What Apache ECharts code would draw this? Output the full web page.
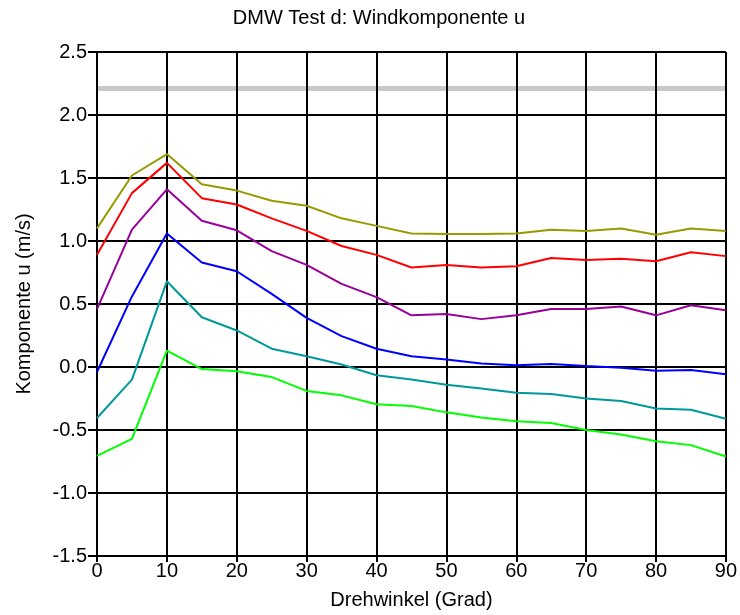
<!DOCTYPE html>
<html>
<head>
<meta charset="utf-8">
<title>DMW Test d: Windkomponente u</title>
<script src="https://cdn.jsdelivr.net/npm/echarts@6/dist/echarts.min.js"></script>
<style>
  html, body { margin: 0; padding: 0; background: #fff; }
  #chart { width: 740px; height: 615px; }
</style>
</head>
<body>
<div id="chart"></div>
<script>
// Rotation angle (degrees) of each sample
const angles = [0, 5, 10, 15, 20, 25, 30, 35, 40, 45, 50, 55, 60, 65, 70, 75, 80, 85, 90];

// u wind component (m/s) for each curve
const seriesOlive  = [1.10, 1.52, 1.69, 1.45, 1.40, 1.32, 1.28, 1.18, 1.12, 1.06, 1.055, 1.055, 1.06, 1.09, 1.08, 1.10, 1.05, 1.10, 1.08];
const seriesRed    = [0.89, 1.38, 1.62, 1.34, 1.29, 1.18, 1.08, 0.96, 0.89, 0.79, 0.81, 0.79, 0.80, 0.865, 0.85, 0.86, 0.84, 0.91, 0.88];
const seriesPurple = [0.46, 1.09, 1.41, 1.16, 1.085, 0.92, 0.81, 0.66, 0.555, 0.41, 0.42, 0.38, 0.41, 0.46, 0.46, 0.48, 0.41, 0.49, 0.45];
const seriesBlue   = [-0.04, 0.56, 1.06, 0.83, 0.76, 0.58, 0.39, 0.245, 0.145, 0.085, 0.06, 0.027, 0.013, 0.024, 0.008, -0.005, -0.03, -0.024, -0.058];
const seriesTeal   = [-0.405, -0.10, 0.68, 0.395, 0.29, 0.145, 0.085, 0.02, -0.066, -0.10, -0.14, -0.17, -0.205, -0.215, -0.25, -0.27, -0.33, -0.34, -0.41];
const seriesGreen  = [-0.705, -0.57, 0.13, -0.016, -0.034, -0.08, -0.19, -0.225, -0.296, -0.31, -0.36, -0.40, -0.43, -0.445, -0.50, -0.535, -0.59, -0.62, -0.71];

// Horizontal reference level (m/s)
const referenceLevel = 2.21;

// Y axis range and step
const yMin = -1.5, yMax = 2.5, yStep = 0.5;
const xMin = 0, xMax = 90, xStep = 10;

const curves = [
  { name: 'olive',  values: seriesOlive,  color: '#999900' },
  { name: 'red',    values: seriesRed,    color: '#ff0000' },
  { name: 'purple', values: seriesPurple, color: '#990099' },
  { name: 'blue',   values: seriesBlue,   color: '#0000ff' },
  { name: 'teal',   values: seriesTeal,   color: '#009999' },
  { name: 'green',  values: seriesGreen,  color: '#00ff00' }
];

const FONT = '"Liberation Sans", Arial, Helvetica, sans-serif';

const chart = echarts.init(document.getElementById('chart'), null, { renderer: 'canvas' });

const lineSeries = curves.map(c => ({
  name: c.name,
  type: 'line',
  data: angles.map((a, i) => [a, c.values[i]]),
  showSymbol: false,
  symbol: 'none',
  lineStyle: { color: c.color, width: 2 },
  itemStyle: { color: c.color },
  animation: false,
  z: 3
}));

// Gray reference band, drawn underneath the grid lines
lineSeries.unshift({
  name: 'reference',
  type: 'line',
  data: [[xMin, referenceLevel], [xMax, referenceLevel]],
  showSymbol: false,
  symbol: 'none',
  lineStyle: { color: '#c8c8c8', width: 5 },
  animation: false,
  z: -1
});

chart.setOption({
  backgroundColor: '#ffffff',
  animation: false,
  title: {
    text: 'DMW Test d: Windkomponente u',
    left: 374,
    textAlign: 'center',
    top: 3,
    textStyle: { fontFamily: FONT, fontSize: 20, fontWeight: 'normal', color: '#000' }
  },
  grid: { left: 97, right: 13, top: 52, bottom: 59, containLabel: false },
  xAxis: {
    type: 'value',
    min: xMin, max: xMax, interval: xStep,
    name: 'Drehwinkel (Grad)',
    nameLocation: 'middle',
    nameGap: 34,
    nameTextStyle: { fontFamily: FONT, fontSize: 20, color: '#000' },
    axisLine: { show: true, onZero: false, lineStyle: { color: '#000', width: 2 } },
    axisTick: { show: true, inside: false, length: 6, lineStyle: { color: '#000', width: 2 } },
    axisLabel: { fontFamily: FONT, fontSize: 20, color: '#000', margin: 5 },
    splitLine: { show: true, lineStyle: { color: '#000', width: 2 } }
  },
  yAxis: {
    type: 'value',
    min: yMin, max: yMax, interval: yStep,
    name: 'Komponente u (m/s)',
    nameLocation: 'middle',
    nameGap: 63,
    nameRotate: 90,
    nameTextStyle: { fontFamily: FONT, fontSize: 20, color: '#000' },
    axisLine: { show: true, onZero: false, lineStyle: { color: '#000', width: 2 } },
    axisTick: { show: true, inside: false, length: 9, lineStyle: { color: '#000', width: 2 } },
    axisLabel: {
      fontFamily: FONT, fontSize: 20, color: '#000', margin: 10,
      formatter: v => v.toFixed(1)
    },
    splitLine: { show: true, lineStyle: { color: '#000', width: 2 } }
  },
  series: lineSeries
});
</script>
</body>
</html>
